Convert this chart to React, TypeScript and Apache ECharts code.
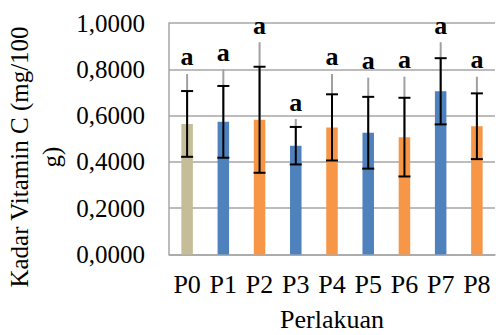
import { useEffect, useRef } from 'react';
import * as echarts from 'echarts';

// Treatments and measured vitamin C content (mean ± SD)
const categories = ['P0', 'P1', 'P2', 'P3', 'P4', 'P5', 'P6', 'P7', 'P8'];
const means = [0.564, 0.573, 0.582, 0.470, 0.549, 0.526, 0.507, 0.705, 0.554];
const sdValues = [0.142, 0.155, 0.229, 0.081, 0.143, 0.155, 0.170, 0.143, 0.142];
// Upper whisker (grey) extent above the mean
const upperSpread = [0.216, 0.227, 0.335, 0.115, 0.231, 0.238, 0.261, 0.212, 0.214];
// Significance letters
const letters = ['a', 'a', 'a', 'a', 'a', 'a', 'a', 'a', 'a'];
const yTicks = [0, 0.2, 0.4, 0.6, 0.8, 1.0];

const barColors = ['#c4bd97', '#4f81bd', '#f79646', '#4f81bd', '#f79646', '#4f81bd', '#f79646', '#4f81bd', '#f79646'];

const FONT = '"Liberation Serif", "Times New Roman", serif';
const GRID_COLOR = '#a6a6a6';

export default function App() {
  const ref = useRef<HTMLDivElement>(null);

  useEffect(() => {
    if (!ref.current) return;
    const chart = echarts.init(ref.current, null, { renderer: 'svg' });

    const errorData = means.map((m, i) => [i, m, sdValues[i], upperSpread[i]]);

    chart.setOption({
      animation: false,
      grid: { left: 169, right: 1, top: 23, bottom: 80.5, containLabel: false, outerBoundsMode: 'none' },
      xAxis: {
        type: 'category',
        data: categories,
        axisLine: { show: true, lineStyle: { color: GRID_COLOR, width: 1.5 } },
        axisTick: { show: false },
        axisLabel: { fontFamily: FONT, fontSize: 26, color: '#000', margin: 17 },
        name: 'Perlakuan',
        nameLocation: 'middle',
        nameGap: 52,
        nameTextStyle: { fontFamily: FONT, fontSize: 26, color: '#000' },
      },
      yAxis: {
        type: 'value',
        min: yTicks[0],
        max: yTicks[yTicks.length - 1],
        interval: 0.2,
        axisLine: { show: true, lineStyle: { color: GRID_COLOR, width: 1.5 } },
        axisTick: { show: false },
        splitLine: { show: true, lineStyle: { color: GRID_COLOR, width: 1.5 } },
        axisLabel: {
          fontFamily: FONT,
          fontSize: 25,
          color: '#000',
          margin: 24,
          formatter: (v: number) => v.toFixed(4).replace('.', ','),
        },
      },
      graphic: [
        {
          type: 'text',
          x: 35,
          y: 157,
          rotation: Math.PI / 2,
          style: {
            text: 'Kadar Vitamin C (mg/100\ng)',
            fontFamily: FONT,
            fontSize: 25,
            lineHeight: 32,
            fill: '#000',
            textAlign: 'center',
            textVerticalAlign: 'middle',
          },
        },
      ],
      series: [
        {
          type: 'bar',
          data: means.map((m, i) => ({ value: m, itemStyle: { color: barColors[i] } })),
          barWidth: 11.5,
        },
        {
          type: 'custom',
          data: errorData,
          z: 10,
          renderItem: (params: any, api: any) => {
            const idx = api.value(0);
            const mean = api.value(1);
            const sd = api.value(2);
            const spread = api.value(3);
            const letter = letters[params.dataIndex];
            const center = api.coord([idx, mean]);
            const low = api.coord([idx, mean - sd]);
            const high = api.coord([idx, mean + sd]);
            const top = api.coord([idx, mean + spread]);
            const x = center[0];
            const half = 6;
            return {
              type: 'group',
              children: [
                {
                  type: 'line',
                  shape: { x1: x, y1: center[1], x2: x, y2: top[1] },
                  style: { stroke: '#a0a0a0', lineWidth: 2 },
                },
                {
                  type: 'line',
                  shape: { x1: x, y1: low[1], x2: x, y2: high[1] },
                  style: { stroke: '#000', lineWidth: 2 },
                },
                {
                  type: 'line',
                  shape: { x1: x - half, y1: low[1], x2: x + half, y2: low[1] },
                  style: { stroke: '#000', lineWidth: 2 },
                },
                {
                  type: 'line',
                  shape: { x1: x - half, y1: high[1], x2: x + half, y2: high[1] },
                  style: { stroke: '#000', lineWidth: 2 },
                },
                {
                  type: 'text',
                  x: x,
                  y: top[1] - 4,
                  style: {
                    text: letter,
                    fontFamily: FONT,
                    fontSize: 26,
                    fontWeight: 'bold',
                    fill: '#000',
                    textAlign: 'center',
                    textVerticalAlign: 'bottom',
                  },
                },
              ],
            };
          },
        },
      ],
    });

    return () => chart.dispose();
  }, []);

  return (
    <div
      ref={ref}
      style={{ position: 'fixed', left: 0, top: 0, width: 496, height: 335, background: '#fff' }}
    />
  );
}
